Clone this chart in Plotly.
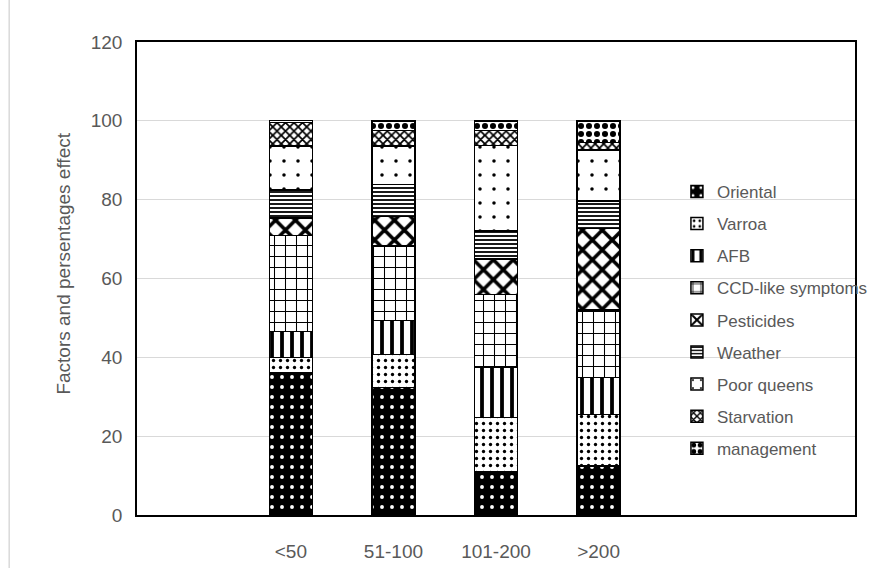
import plotly.graph_objects as go

categories = ["<50", "51-100", "101-200", ">200"]
factors = ["Oriental", "Varroa", "AFB", "CCD-like symptoms", "Pesticides",
           "Weather", "Poor queens", "Starvation", "management"]
y_title = "Factors and persentages effect"

oriental = [36.2, 32.3, 11.1, 12.4]
varroa = [3.8, 8.4, 13.7, 13.1]
afb = [6.6, 8.7, 12.8, 9.4]
ccd = [24.3, 18.8, 18.4, 17.1]
pesticides = [4.5, 7.5, 8.9, 20.7]
weather = [7.0, 8.2, 7.2, 7.0]
poor_queens = [11.2, 9.7, 21.7, 12.9]
starvation = [6.0, 3.9, 3.7, 1.9]
management = [0.5, 2.5, 2.5, 5.5]

series = [oriental, varroa, afb, ccd, pesticides, weather, poor_queens, starvation, management]

# pattern styles: (shape, fg, bg, size, solidity)
patterns = [
    (".", "white", "black", 10, 0.12),
    (".", "black", "white", 7, 0.18),
    ("|", "black", "white", 10, 0.38),
    ("+", "black", "white", 11, 0.18),
    ("x", "black", "white", 14, 0.45),
    ("-", "black", "white", 4, 0.45),
    (".", "black", "white", 14, 0.05),
    ("x", "black", "white", 6, 0.5),
    (".", "black", "white", 8, 0.45),
]

# positions: categories occupy slots 1..4 of a 7-slot axis
xpos = [i + 1 for i in range(len(categories))]

fig = go.Figure()
for name, vals, (shape, fg, bg, size, sol) in zip(factors, series, patterns):
    fig.add_trace(go.Bar(
        x=xpos, y=vals, name=name, width=0.42, legendgroup=name,
        marker=dict(color=bg, line=dict(color="black", width=1.5),
                    pattern=dict(shape=shape, fgcolor=fg, bgcolor=bg,
                                 size=size, solidity=sol, fillmode="replace")),
    ))

fig.update_layout(
    width=874, height=568, autosize=False,
    barmode="stack",
    paper_bgcolor="white", plot_bgcolor="white",
    margin=dict(l=137, r=19, t=42, b=53, autoexpand=False),
    font=dict(family="Liberation Sans", color="#595959", size=19),
    legend=dict(x=0.752, xanchor="left", y=0.721, yanchor="top",
                traceorder="grouped", tracegroupgap=7,
                font=dict(size=17, color="#595959"),
                bgcolor="rgba(0,0,0,0)"),
    xaxis=dict(range=[-0.5, 6.5], tickvals=xpos, ticktext=categories,
               showgrid=False, showline=True, linecolor="black", linewidth=1.5,
               mirror=True, ticks="", ticklabelstandoff=18, zeroline=False),
    yaxis=dict(range=[0, 120], dtick=20, showgrid=True, gridcolor="#d9d9d9",
               gridwidth=1, showline=True, linecolor="black", linewidth=1.5,
               mirror=True, ticks="", ticklabelstandoff=9, zeroline=False),
    annotations=[dict(text=y_title, textangle=-90, xref="paper", yref="paper",
                      x=-0.102, y=0.531, xanchor="center", yanchor="middle",
                      showarrow=False, font=dict(size=19, color="#595959"))],
    shapes=[dict(type="line", xref="paper", yref="paper",
                 x0=-0.178, x1=-0.178, y0=-0.12, y1=1.1,
                 line=dict(color="#d9d9d9", width=1.5))],
)

fig.write_html("out.html",
               config={"responsive": False, "displayModeBar": False},
               post_script="document.body.style.margin='0';document.body.style.overflow='hidden';")
